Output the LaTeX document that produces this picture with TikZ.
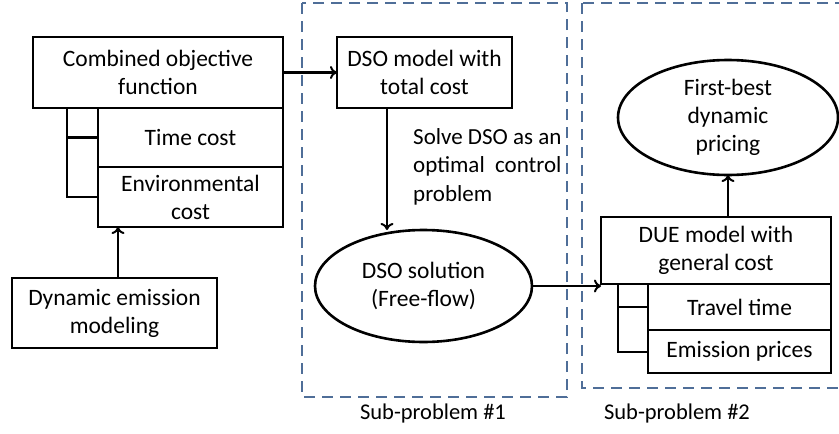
\documentclass[tikz,border=0pt]{standalone}
\usepackage{fontspec}
\setmainfont{Carlito}
\usetikzlibrary{arrows.meta,shapes.geometric}
\definecolor{dashblue}{HTML}{4F6E98}
\tikzset{
  box/.style={draw, line width=2.6pt, inner sep=0pt, outer sep=0pt, align=center,
    font=\fontsize{23.5}{28}\selectfont},
  oval/.style={draw, ellipse, line width=2.6pt, inner sep=0pt, outer sep=0pt, align=center,
    font=\fontsize{23.5}{28}\selectfont},
  conn/.style={line width=2.6pt, -{To[length=7pt,width=13pt,line width=2pt]}},
  brk/.style={line width=2.6pt},
  dashbox/.style={draw=dashblue, line width=2.8pt, dash pattern=on 11pt off 7pt},
  lbl/.style={font=\fontsize{22.5}{26}\selectfont, inner sep=0pt}
}
\begin{document}
\begin{tikzpicture}[x=1pt,y=-1pt]
\useasboundingbox (0,0) rectangle (839,434);
\begin{scope}
\clip (0,0) rectangle (839,434);
\draw[dashbox] (302,3) rectangle (567,397);
\draw[dashbox] (582,3) rectangle (860,388);
\end{scope}
\node[lbl] (sp1) at (433,413) {Sub-problem \#1};
\node[lbl] (sp2) at (677,413) {Sub-problem \#2};

\node[box, minimum width=250pt, minimum height=71pt] (comb) at (158,72.5) {Combined objective\\function};
\node[box, minimum width=185pt, minimum height=59pt] (time) at (190.5,137.5) {Time cost};
\node[box, minimum width=185pt, minimum height=60pt] (env) at (190.5,197) {Environmental\\cost};
\node[box, minimum width=205pt, minimum height=70pt] (dyn) at (114.5,313) {Dynamic emission\\modeling};

\node[box, minimum width=175pt, minimum height=71pt] (dsom) at (424.5,72.5) {DSO model with\\total cost};
\node[oval, minimum width=217pt, minimum height=112pt] (dsos) at (423.5,286) {DSO solution\\(Free-flow)};
\node[lbl, anchor=north west, align=left, font=\fontsize{23}{28.5}\selectfont] (solve) at (413,128) {Solve DSO as an\\optimal\ \ control\\problem};

\node[box, minimum width=230pt, minimum height=67pt] (due) at (716,250.5) {DUE model with\\general cost};
\node[box, minimum width=183pt, minimum height=46pt] (tt) at (739.5,307) {Travel time};
\node[box, minimum width=183pt, minimum height=43pt] (ep) at (739.5,351.5) {Emission prices};
\node[oval, minimum width=220pt, minimum height=115pt] (fb) at (728,117.5) {First-best\\dynamic\\pricing};

% brackets
\coordinate (b1) at (67,108);
\coordinate (b2) at (67,197);
\draw[brk] (b1) -- (b2) -- (env.west |- b2);
\draw[brk] (time.west -| b1) -- (time.west);
\coordinate (c1) at (618,284);
\coordinate (c2) at (618,352);
\draw[brk] (c1) -- (c2) -- (ep.west |- c2);
\draw[brk] (tt.west -| c1) -- (tt.west);

% connectors
\draw[conn] (comb.east) -- (dsom.west);
\draw[conn] (dyn.north -| 118,0) -- (env.south -| 118,0);
\draw[conn] (dsom.south -| 387,0) -- (dsos.north -| 387,0);
\draw[conn] (dsos.east) -- (dsos.east -| due.west);
\draw[conn] (due.north -| fb.south) -- (fb.south);
\end{tikzpicture}
\end{document}
